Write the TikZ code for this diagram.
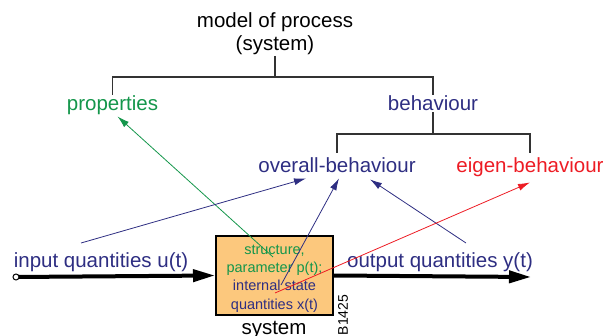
\documentclass[tikz,border=0pt]{standalone}
\usepackage{fontspec}
\setmainfont{Liberation Sans}
\usetikzlibrary{arrows.meta}
\definecolor{procgreen}{RGB}{ 20, 150,  75}
\definecolor{procblue}{RGB}{ 46,  46, 130}
\definecolor{procred}{RGB}{237,  28,  36}
\definecolor{boxorange}{RGB}{252, 200, 125}

\begin{document}
\begin{tikzpicture}[x=1pt, y=-1pt,
        term/.style={inner sep=1pt, anchor=base, font=\fontsize{20.5}{23}\selectfont},
        tree/.style={line width=1.2pt, color=black!80},
        flow/.style={line width=0.8pt, -{Latex[length=12pt, width=7pt]}},
        signal/.style={line width=4pt, -{Triangle[length=22pt, width=12pt]}},
        sysbox/.style={draw=black, line width=2pt, fill=boxorange, inner sep=0pt,
                       minimum width=117pt, minimum height=79pt},
        statetext/.style={inner sep=0pt, align=center, font=\fontsize{14.5}{18.3}\selectfont}]
            \useasboundingbox (0,0) rectangle (604,336);

            % labels of the model tree
            \node[term, anchor=center, align=center] (model)   at (275.0,  33.5) {model of process\\(system)};
            \node[term, procgreen]                   (prop)    at (112.5, 111.0) {properties};
            \node[term, procblue]                    (beh)     at (433.0, 111.0) {behaviour};
            \node[term, procblue]                    (overall) at (337.0, 173.0) {overall-behaviour};
            \node[term, procred]                     (eigen)   at (530.0, 173.0) {eigen-behaviour};

            % signals and system
            \node[term, procblue]                    (input)   at (101.0, 267.0) {input quantities u(t)};
            \node[term, procblue]                    (output)  at (440.0, 267.0) {output quantities y(t)};
            \node[sysbox]                            (sys)     at (274.5, 275.5) {};
            \node[statetext]                         (state)   at (274.5, 278.5) {\textcolor{procgreen}{structure,}\\
                                                                                 \textcolor{procgreen}{parameter p(t);}\\
                                                                                 \textcolor{procblue}{internal state}\\
                                                                                 \textcolor{procblue}{quantities x(t)}};
            \node[term]                              (syslabel) at (274.0, 334.5) {system};
            \node[font=\fontsize{14}{16}\selectfont, rotate=90] (code) at (343.0, 315.0) {B1425};

            \coordinate (fork)    at (275, 77);
            \coordinate (subfork) at (433,134);
            \draw[tree] (model.south) -- (fork);
            \draw[tree] (prop.north) |- (fork) -| (beh.north);
            \draw[tree] (beh.south) -- (subfork);
            \draw[tree] ([yshift=4pt]overall.north) |- (subfork) -| ([yshift=4pt]eigen.north);

            \coordinate (src)  at ( 16,277);
            \coordinate (sink) at (531,277);
            \draw[signal] (src) -- (sys.west);
            \draw[signal] (sys.east) -- (sink);
            \filldraw[fill=white, line width=1pt] (src) circle (3pt);

            % what the model is read from
            \coordinate (structP) at (273,257);
            \coordinate (stateP)  at (281,285);
            \coordinate (stateX)  at (275,293);
            \coordinate (inTail)  at ( 81,243);
            \coordinate (outTail) at (466,243);
            \draw[flow, procgreen] (structP) -- ([shift={(5,0)}]prop.south);
            \draw[flow, procblue]  (inTail)  -- ([shift={(-31,4)}]overall.south);
            \draw[flow, procblue]  (stateP)  -- ([shift={(2,4)}]overall.south);
            \draw[flow, procblue]  (outTail) -- ([shift={(33,5)}]overall.south);
            \draw[flow, procred]   (stateX)  -- ([shift={(0,4)}]eigen.south);
        \end{tikzpicture}
\end{document}
